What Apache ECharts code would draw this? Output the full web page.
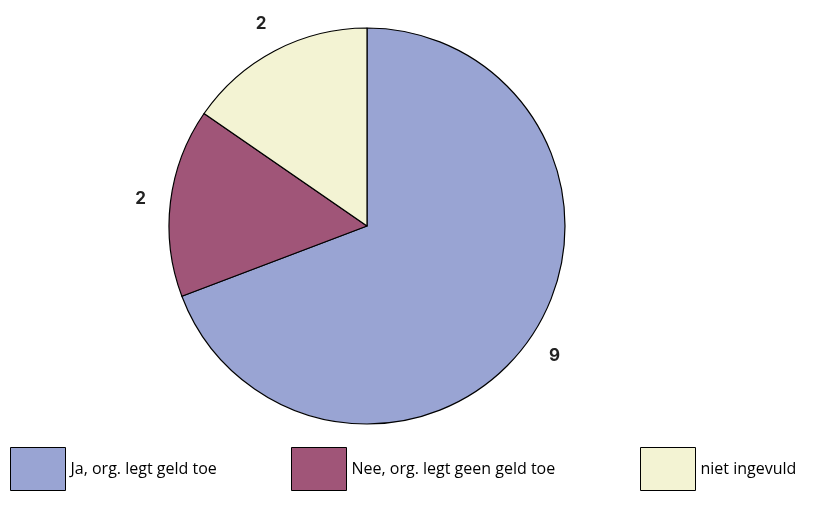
<!DOCTYPE html>
<html>
<head>
<meta charset="utf-8">
<title>Pie</title>
<script src="https://cdn.jsdelivr.net/npm/echarts@6/dist/echarts.min.js"></script>
<style>
body{
margin:0;
background:#ffffff;
}
#chart{
width:813px;
height:512px;
}
</style>
</head>
<body>

<div id="chart"></div>

<script>

const names=["Ja, org. legt geld toe","Nee, org. legt geen geld toe","niet ingevuld"]
const values=[9,2,2]
const colors=["#99a4d3","#a05578","#f3f3d3"]

const legendLeft=[10,291,640]

const data=names.map((n,i)=>({
name:n,
value:values[i],
itemStyle:{color:colors[i]}
}))

const chart=echarts.init(document.getElementById("chart"))

chart.setOption({

animation:false,

// one legend block per entry, placed like the original
legend:names.map((n,i)=>({
left:legendLeft[i],
top:447,
padding:0,
itemWidth:55,
itemHeight:43,
icon:"rect",
textStyle:{
fontFamily:"Open Sans",
fontSize:16,
color:"#000"
},
itemStyle:{
borderColor:"#000",
borderWidth:1
},
data:[n]
})),

series:[
{
type:"pie",
center:[367,226],
radius:[0,198],
startAngle:90,
clockwise:true,
label:{show:false},
labelLine:{show:false},
itemStyle:{
borderColor:"#000",
borderWidth:1.2
},
emphasis:{disabled:true},
data:data
},
{
// transparent ring that only carries the value labels
type:"pie",
center:[367,226],
radius:[215,235],
startAngle:90,
clockwise:true,
silent:true,
itemStyle:{color:"rgba(0,0,0,0)"},
label:{
show:true,
position:"inside",
formatter:"{c}",
fontFamily:"Inter",
fontWeight:"bold",
fontSize:17,
color:"#222"
},
labelLine:{show:false},
emphasis:{disabled:true},
data:names.map((n,i)=>({name:n,value:values[i]}))
}
]

})

</script>

</body>
</html>
